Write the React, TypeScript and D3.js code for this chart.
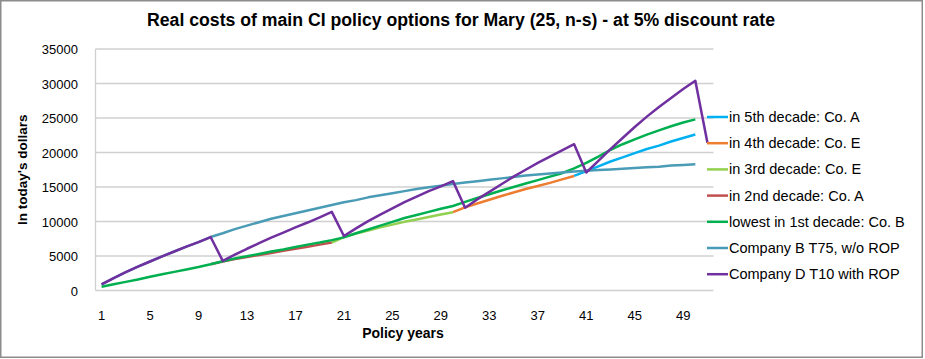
import React from "react";
import * as d3 from "d3";

const years: number[] = Array.from({ length: 51 }, (_, i) => i + 1);
const xTickLabels: number[] = [1, 5, 9, 13, 17, 21, 25, 29, 33, 37, 41, 45, 49];
const yTicks: number[] = [0, 5000, 10000, 15000, 20000, 25000, 30000, 35000];

// values indexed by policy year, starting at the given year
const fifthDecadeStart = 40;
const fifthDecadeCoA = [16600, 17300, 18000, 18700, 19300, 19900, 20500, 21000, 21600, 22100, 22600];
const fourthDecadeStart = 30;
const fourthDecadeCoE = [11350, 12050, 12600, 13150, 13700, 14200, 14700, 15150, 15600, 16100, 16600];
const thirdDecadeStart = 20;
const thirdDecadeCoE = [6950, 7750, 8250, 8700, 9150, 9550, 9950, 10300, 10650, 11000, 11350];
const secondDecadeStart = 10;
const secondDecadeCoA = [3800, 4200, 4550, 4850, 5150, 5450, 5750, 6050, 6350, 6650, 6950];
const lowestFirstDecadeCoB = [
  550, 900, 1250, 1600, 2000, 2350, 2700, 3050, 3400, 3800,
  4250, 4650, 4950, 5300, 5650, 5950, 6300, 6650, 6950, 7300,
  7700, 8300, 8850, 9400, 9950, 10500, 10950, 11400, 11850, 12250,
  12850, 13400, 13950, 14500, 15000, 15500, 16000, 16500, 17000, 17700,
  18500, 19400, 20400, 21200, 21900, 22600, 23200, 23800, 24350, 24800,
];
const companyBT75 = [
  900, 1800, 2650, 3450, 4200, 4950, 5650, 6350, 7000, 7750,
  8300, 8900, 9400, 9900, 10400, 10800, 11200, 11600, 12000, 12400,
  12800, 13100, 13500, 13800, 14100, 14400, 14700, 14950, 15200, 15450,
  15650, 15850, 16050, 16250, 16450, 16650, 16800, 16950, 17100, 17250,
  17350, 17450, 17550, 17650, 17750, 17850, 17950, 18100, 18200, 18300,
];
const companyDT10 = [
  900, 1800, 2650, 3450, 4200, 4950, 5650, 6350, 7000, 7750,
  4300, 5200, 6050, 6850, 7650, 8400, 9150, 9850, 10600, 11400,
  7900, 9000, 10050, 11000, 11900, 12800, 13600, 14400, 15100, 15850,
  12000, 13200, 14300, 15400, 16500, 17500, 18500, 19400, 20300, 21200,
  17100, 18800, 20500, 22100, 23700, 25200, 26600, 27900, 29200, 30400,
  21400,
];

type Series = { name: string; color: string; start: number; values: number[] };

const seriesList: Series[] = [
  { name: "in 5th decade: Co. A", color: "#00B0F0", start: fifthDecadeStart, values: fifthDecadeCoA },
  { name: "in 4th decade: Co. E", color: "#ED7D31", start: fourthDecadeStart, values: fourthDecadeCoE },
  { name: "in 3rd decade: Co. E", color: "#92D050", start: thirdDecadeStart, values: thirdDecadeCoE },
  { name: "in 2nd decade: Co. A", color: "#C0504D", start: secondDecadeStart, values: secondDecadeCoA },
  { name: "lowest in 1st decade: Co. B", color: "#00B050", start: 1, values: lowestFirstDecadeCoB },
  { name: "Company B T75, w/o ROP", color: "#4A9BB5", start: 1, values: companyBT75 },
  { name: "Company D T10 with ROP", color: "#7030A0", start: 1, values: companyDT10 },
];

const W = 925;
const H = 359;
const plot = { left: 95.5, right: 713.5, top: 49, bottom: 290.5 };
const FONT = "'Liberation Sans', Arial, sans-serif";

export default function App() {
  const xBand = d3
    .scaleBand<number>()
    .domain(years)
    .range([plot.left, plot.right])
    .padding(0);
  const x = (yr: number) => (xBand(yr) as number) + xBand.bandwidth() / 2;
  const y = d3.scaleLinear().domain([0, 35000]).range([plot.bottom, plot.top]);

  const line = d3
    .line<{ yr: number; v: number }>()
    .x((d) => x(d.yr))
    .y((d) => y(d.v));

  return (
    <svg width={W} height={H} style={{ display: "block", background: "#fff" }}>
      <style>{`body{margin:0}`}</style>
      <rect x={0.75} y={0.75} width={921.5} height={356.5} fill="#fff" stroke="#8c8c8c" strokeWidth={1.5} />
      <text
        x={461}
        y={26}
        textAnchor="middle"
        fontFamily={FONT}
        fontWeight="bold"
        fontSize={17.5}
        textLength={628}
        lengthAdjust="spacingAndGlyphs"
        fill="#000"
      >
        Real costs of main CI policy options for Mary (25, n-s) - at 5% discount rate
      </text>

      {yTicks.map((t) => (
        <g key={t}>
          <line x1={plot.left} x2={plot.right} y1={y(t)} y2={y(t)} stroke="#d0d0d0" strokeWidth={1.3} />
          <text x={78} y={y(t) + 5} textAnchor="end" fontFamily={FONT} fontSize={13} fill="#000">
            {t}
          </text>
        </g>
      ))}
      <line x1={plot.left} x2={plot.left} y1={plot.top} y2={plot.bottom} stroke="#d0d0d0" strokeWidth={1.3} />

      {xTickLabels.map((t) => (
        <text key={t} x={x(t)} y={320} textAnchor="middle" fontFamily={FONT} fontSize={13} fill="#000">
          {t}
        </text>
      ))}

      <text x={403} y={338} textAnchor="middle" fontFamily={FONT} fontWeight="bold" fontSize={14} fill="#000">
        Policy years
      </text>
      <text
        transform={`translate(27,${(plot.top + plot.bottom) / 2}) rotate(-90)`}
        textAnchor="middle"
        fontFamily={FONT}
        fontWeight="bold"
        fontSize={13.5}
        fill="#000"
      >
        In today's dollars
      </text>

      {seriesList.map((s) => (
        <path
          key={s.name}
          d={line(s.values.map((v, i) => ({ yr: s.start + i, v }))) || ""}
          fill="none"
          stroke={s.color}
          strokeWidth={2.5}
          strokeLinejoin="round"
        />
      ))}

      {seriesList.map((s, i) => {
        const cy = 117 + i * 26.2;
        return (
          <g key={s.name}>
            <line x1={707} x2={728} y1={cy} y2={cy} stroke={s.color} strokeWidth={2.5} />
            <text x={729} y={cy + 5} fontFamily={FONT} fontSize={14.5} fill="#000">
              {s.name}
            </text>
          </g>
        );
      })}
    </svg>
  );
}
